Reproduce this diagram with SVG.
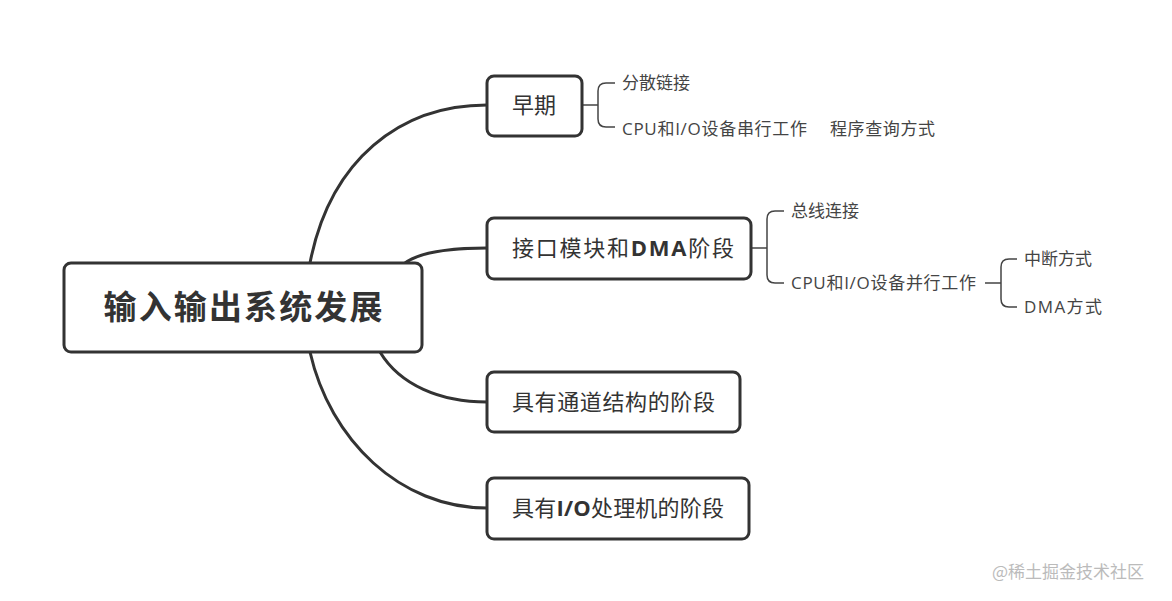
<svg xmlns="http://www.w3.org/2000/svg" width="1172" height="601" viewBox="0 0 1172 601">
<style>
.box{fill:#fff;stroke:#333;stroke-width:3}
.c{fill:none;stroke:#333;stroke-width:3}
.b{fill:none;stroke:#444;stroke-width:1.5}
.t{font-family:"Open Sans","Noto Sans CJK SC",sans-serif;fill:#333}
.s{font-size:17px;fill:#444}
.m{font-size:22px}
</style>
<rect width="1172" height="601" fill="#fff"/>
<g id="connectors">
<path class="c" d="M310 263 C330 160 400 105 487 105"/>
<path class="c" d="M405 263 C420 252 450 248 487 248"/>
<path class="c" d="M380 352 C400 385 440 402 487 402"/>
<path class="c" d="M310 352 C330 440 400 508 487 508"/>
<path class="b" d="M582 105 H598 M615 83 H606 Q598 83 598 91 V119 Q598 127 606 127 H615"/>
<path class="b" d="M751 248 H767 M784 211 H775 Q767 211 767 219 V275 Q767 283 775 283 H784"/>
<path class="b" d="M985 283 H1001 M1017 259 H1009 Q1001 259 1001 267 V299 Q1001 307 1009 307 H1017"/>
</g>
<g id="root"><rect class="box" x="64" y="263" width="358" height="89" rx="7"/><text class="t" x="243" y="319" text-anchor="middle" font-size="33" font-weight="bold" textLength="279">输入输出系统发展</text></g>
<g id="n1"><rect class="box" x="487" y="76" width="95" height="60" rx="7"/><text class="t m" x="534" y="113" text-anchor="middle">早期</text></g>
<g id="n2"><rect class="box" x="487" y="218" width="264" height="61" rx="7"/><text class="t m" x="512" y="256" textLength="222">接口模块和<tspan font-weight="bold">DMA</tspan>阶段</text></g>
<g id="n3"><rect class="box" x="487" y="372" width="253" height="60" rx="7"/><text class="t m" x="512" y="410" textLength="203">具有通道结构的阶段</text></g>
<g id="n4"><rect class="box" x="487" y="478" width="262" height="61" rx="7"/><text class="t m" x="512" y="516" textLength="212">具有<tspan font-weight="bold">I/O</tspan>处理机的阶段</text></g>
<g id="leaves">
<text class="t s" x="622" y="89">分散链接</text>
<text class="t s" x="622" y="135" textLength="185">CPU和I/O设备串行工作</text>
<text class="t s" x="830" y="135" textLength="105">程序查询方式</text>
<text class="t s" x="791" y="217">总线连接</text>
<text class="t s" x="791" y="289" textLength="185">CPU和I/O设备并行工作</text>
<text class="t s" x="1024" y="265">中断方式</text>
<text class="t s" x="1024" y="313" textLength="78">DMA方式</text>
</g>
<text x="992" y="578" font-family="Noto Sans CJK SC,sans-serif" font-size="17" fill="#bbb">@稀土掘金技术社区</text>
</svg>
